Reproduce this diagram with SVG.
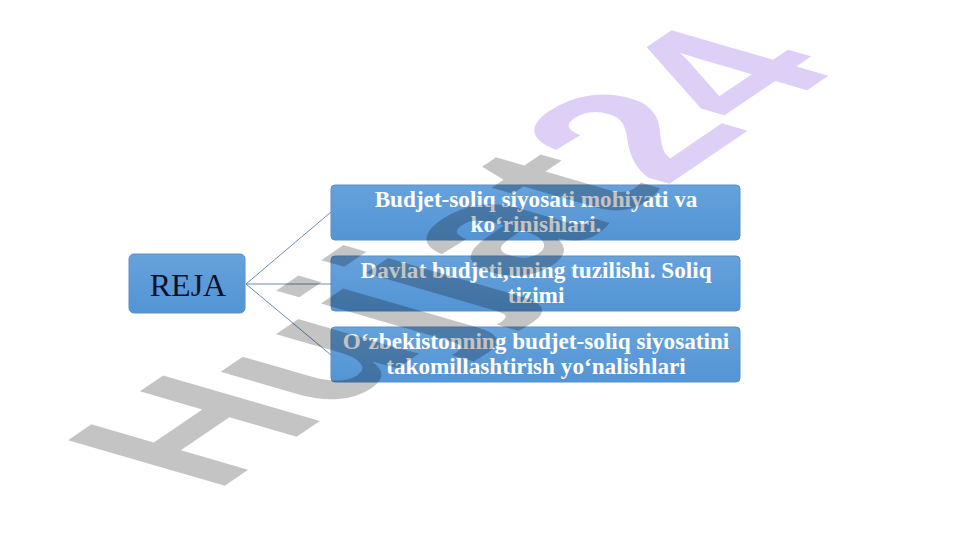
<svg xmlns="http://www.w3.org/2000/svg" width="961" height="540" viewBox="0 0 961 540">
<defs>
<linearGradient id="bg" x1="0" y1="0" x2="0" y2="1">
<stop offset="0" stop-color="#66a2dc"/>
<stop offset="1" stop-color="#5394d4"/>
</linearGradient>
<style>
.box{fill:url(#bg);stroke:#5a8fc8;stroke-width:1}
.lbl{font-family:"Liberation Serif","Times New Roman",serif;font-weight:bold;font-size:23.2px;fill:#ffffff;text-anchor:middle}
.reja{font-family:"Liberation Serif","Times New Roman",serif;font-size:32px;fill:#0b0f2a;text-anchor:middle}
.con{stroke:#6b8db0;stroke-width:1;fill:none}
.wm{font-family:"Liberation Sans",Arial,sans-serif;font-weight:bold;font-size:100px}
</style>
</defs>
<rect width="961" height="540" fill="#ffffff"/>
<g id="connectors">
<line class="con" x1="246" y1="284" x2="331" y2="212"/>
<line class="con" x1="246" y1="284" x2="331" y2="284"/>
<line class="con" x1="246" y1="284" x2="331" y2="355"/>
</g>
<g id="reja">
<rect class="box" x="129" y="254" width="116" height="59" rx="5"/>
<text class="reja" x="188" y="296">REJA</text>
</g>
<g id="item1">
<rect class="box" x="331" y="185" width="409" height="55" rx="4"/>
<text class="lbl" x="536" y="207">Budjet-soliq siyosati mohiyati va</text>
<text class="lbl" x="536" y="232">ko‘rinishlari.</text>
</g>
<g id="item2">
<rect class="box" x="331" y="256" width="409" height="55" rx="4"/>
<text class="lbl" x="536" y="278">Davlat budjeti,uning tuzilishi. Soliq</text>
<text class="lbl" x="536" y="303">tizimi</text>
</g>
<g id="item3">
<rect class="box" x="331" y="327" width="409" height="55" rx="4"/>
<text class="lbl" x="536" y="349">O‘zbekistonning budjet-soliq siyosatini</text>
<text class="lbl" x="536" y="374">takomillashtirish yo‘nalishlari</text>
</g>
<g id="watermark" transform="matrix(1.62 -1.10 2.28 0.66 214 493)">
<text class="wm" x="0" y="0"><tspan fill="#000000" fill-opacity="0.23">Hujjat</tspan><tspan fill="#7b3fe0" fill-opacity="0.25">24</tspan></text>
</g>
</svg>
